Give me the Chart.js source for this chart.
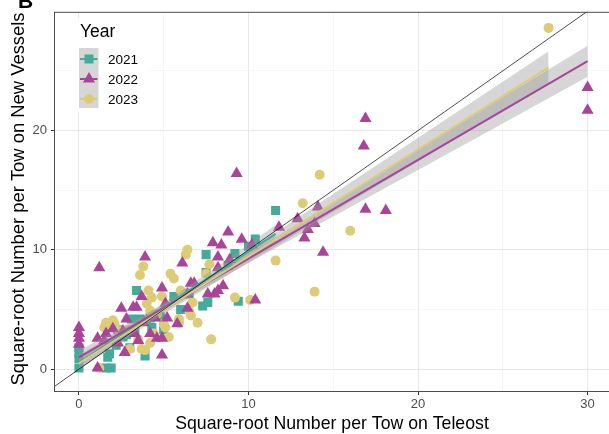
<!DOCTYPE html>
<html>
<head>
<meta charset="utf-8">
<script src="https://cdn.jsdelivr.net/npm/chart.js@4/dist/chart.umd.min.js"></script>
<style>
  html, body { margin: 0; padding: 0; overflow: hidden; background: #fff; }
  #wrap { width: 620px; height: 434px; }
</style>
</head>
<body>
<div id="wrap"><canvas id="c" width="620" height="434"></canvas></div>
<script>
// Square-root catch per tow: Teleost (x) vs new vessels (y), by survey year
const years = ['2021', '2022', '2023'];
const colours = ['#44AA99', '#AA4499', '#DDCC77'];
const shapes = ['rect', 'triangle', 'circle'];

const tows2021 = [
  [0,0.1],[0,0.9],[0,1.4],[0,1.8],
  [1.6,0.1],[1.9,0.1],[1.7,1.0],[1.8,1.3],
  [2.2,2.0],[2.3,3.3],[2.6,2.7],[2.8,2.9],[3.0,1.8],[3.1,4.2],[3.3,3.3],[3.4,6.6],
  [3.6,4.2],[3.9,1.1],[4.0,4.1],[4.2,4.3],[4.3,3.5],[4.8,4.4],[5.0,3.3],
  [5.6,6.1],[6.0,5.0],[6.5,6.3],[7.3,5.3],[7.6,5.6],[7.5,8.1],[7.5,9.6],
  [8.8,8.7],[9.2,9.7],[9.4,5.7],[10.0,10.3],[10.4,10.9],[11.6,13.3]
];
const tows2022 = [
  [0,3.5],[0,3.0],[0,2.6],[0,2.1],
  [1.1,0.1],[1.2,8.5],[1.1,2.6],[1.5,2.4],[1.6,3.0],
  [2.0,3.4],[2.3,2.2],[2.6,3.2],[2.7,1.4],[2.5,5.1],[2.8,4.2],[3.2,5.2],[3.4,5.2],
  [3.3,3.0],[3.7,6.1],[3.9,9.4],[3.5,2.4],[3.8,3.9],
  [4.5,4.3],[4.9,6.8],[4.9,1.2],[4.9,2.6],[5.1,5.5],[5.2,4.3],[4.2,3.0],[4.6,2.6],
  [6.1,8.9],[6.4,6.3],[6.6,7.2],[6.4,5.1],[6.8,7.2],[5.8,3.8],
  [7.6,6.3],[7.9,10.6],[8.0,6.3],[8.2,6.6],[8.2,9.4],[8.5,7.0],[8.4,10.4],[8.8,11.5],
  [8.9,9.2],[8.2,8.5],
  [9.3,16.4],[9.6,10.9],[10.2,10.4],[10.4,5.8],
  [11.8,11.9],[12.9,12.6],[13.3,11.0],[13.5,11.7],[13.9,12.2],[14.1,13.6],[14.4,9.8],
  [16.9,21.0],[16.8,18.7],[16.9,13.4],[18.1,13.3],
  [30,23.6],[30,21.7]
];
const tows2023 = [
  [1.2,0.1],[1.5,3.5],[1.6,3.9],[1.8,3.6],[2.1,3.8],[2.0,4.1],[2.4,3.2],[2.9,3.3],
  [3.0,1.7],[3.5,2.5],[3.7,1.7],[3.9,1.6],[4.2,2.2],[4.4,3.0],[3.6,7.9],[3.8,8.6],
  [4.1,6.6],[4.0,5.5],[4.3,6.0],[4.2,4.9],[4.6,4.6],
  [4.9,6.1],[5.0,3.8],[5.1,3.5],[5.3,2.7],[5.4,8.0],[5.6,7.6],[5.9,3.9],[5.9,4.2],
  [6.0,6.6],[6.3,9.6],[6.4,10.0],[6.5,4.9],[6.6,4.5],[6.7,5.6],[7.0,3.9],
  [7.5,8.0],[7.7,8.8],[7.8,2.5],
  [9.2,6.0],[10.1,5.8],[11.6,9.1],[13.2,13.9],[13.9,6.5],[14.2,16.3],[16.0,11.6],
  [27.7,28.6]
];

// Fitted linear trends (end points) and their 95% confidence bands
const fitX2021 = [0, 11.6],  fitY2021 = [0.55, 11.34];
const fitX2022 = [0, 30],    fitY2022 = [1.0, 25.81];
const fitX2023 = [0, 27.7],  fitY2023 = [0.5, 25.29];

const bandX2021 = [0, 4, 8, 11.6];
const bandLo2021 = [-0.05, 3.92, 7.54, 10.59];
const bandHi2021 = [1.15, 4.62, 8.44, 12.09];

const bandX2022 = [0, 5, 10, 15, 20, 25, 30];
const bandLo2022 = [0.45, 4.84, 8.89, 12.8, 16.69, 20.58, 24.51];
const bandHi2022 = [1.55, 5.44, 9.65, 14.0, 18.39, 22.78, 27.11];

const bandX2023 = [0, 5, 10, 15, 20, 25, 27.7];
const bandLo2023 = [0.0, 4.63, 8.95, 13.18, 17.4, 21.68, 23.94];
const bandHi2023 = [1.0, 5.33, 9.95, 14.68, 19.4, 24.08, 26.64];

// 1:1 reference line
const identityX = [-2, 32];

const xTicks = [0, 10, 20, 30];
const yTicks = [0, 10, 20];

const FONT = '"Liberation Sans", Arial, Helvetica, sans-serif';
const pts = arr => arr.map(([x, y]) => ({ x, y }));
const xy = (xs, ys) => xs.map((x, i) => ({ x, y: ys[i] }));

const pointSets = [tows2021, tows2022, tows2023];
const radii = [6.4, 7.0, 5.0];
const pointOrder = [30, 28, 29];

const datasets = [];
pointSets.forEach((set, i) => {
  datasets.push({
    type: 'scatter', label: years[i], data: pts(set),
    pointStyle: shapes[i], pointRadius: radii[i], pointHoverRadius: radii[i],
    backgroundColor: colours[i], borderWidth: 0, order: pointOrder[i]
  });
});
const bands = [[bandX2021, bandLo2021, bandHi2021], [bandX2022, bandLo2022, bandHi2022], [bandX2023, bandLo2023, bandHi2023]];
bands.forEach(([bx, lo, hi], i) => {
  datasets.push({
    type: 'line', data: xy(bx, lo), showLine: true, borderWidth: 0,
    borderColor: 'rgba(0,0,0,0)', pointRadius: 0, fill: false, order: 20 - i * 2
  });
  datasets.push({
    type: 'line', data: xy(bx, hi), showLine: true, borderWidth: 0,
    borderColor: 'rgba(0,0,0,0)', pointRadius: 0,
    fill: '-1', backgroundColor: 'rgba(153,153,153,0.4)', order: 19 - i * 2
  });
});
const fits = [[fitX2021, fitY2021], [fitX2022, fitY2022], [fitX2023, fitY2023]];
fits.forEach(([fx, fy], i) => {
  datasets.push({
    type: 'line', data: xy(fx, fy), showLine: true, borderColor: colours[i],
    borderWidth: 2, pointRadius: 0, fill: false, order: 10 - i
  });
});
datasets.push({
  type: 'line', data: xy(identityX, identityX), showLine: true, borderColor: '#000',
  borderWidth: 0.7, pointRadius: 0, fill: false, order: 1
});

const isMajor = (v, list) => list.includes(v);

const decorations = {
  id: 'decorations',
  afterDraw(chart) {
    const { ctx, chartArea: a } = chart;
    ctx.save();
    // panel border
    ctx.strokeStyle = '#4d4d4d';
    ctx.lineWidth = 1;
    ctx.strokeRect(a.left + 0.5, a.top + 0.5, a.right - a.left - 1, a.bottom - a.top - 1);

    // axis titles
    ctx.fillStyle = '#000';
    ctx.textAlign = 'center';
    ctx.textBaseline = 'alphabetic';
    ctx.font = `17.7px ${FONT}`;
    ctx.fillText('Square-root Number per Tow on Teleost', 332, 429);
    ctx.save();
    ctx.translate(24, 199);
    ctx.rotate(-Math.PI / 2);
    ctx.font = `18.4px ${FONT}`;
    ctx.fillText('Square-root Number per Tow on New Vessels', 0, 0);
    ctx.restore();

    // panel tag
    ctx.textAlign = 'left';
    ctx.font = `bold 21px ${FONT}`;
    ctx.fillText('B', 18, 8);

    // legend
    ctx.fillStyle = '#fff';
    ctx.fillRect(72, 18, 78, 94);
    ctx.fillStyle = '#000';
    ctx.font = `17.5px ${FONT}`;
    ctx.fillText('Year', 80, 37);
    ctx.fillStyle = '#d6d6d6';
    ctx.fillRect(79, 48, 19.5, 60);
    years.forEach((yr, i) => {
      const cy = 59 + i * 20, cx = 89;
      ctx.strokeStyle = colours[i];
      ctx.lineWidth = 2;
      ctx.beginPath(); ctx.moveTo(80, cy); ctx.lineTo(97.5, cy); ctx.stroke();
      ctx.fillStyle = colours[i];
      ctx.beginPath();
      if (shapes[i] === 'rect') {
        ctx.rect(cx - 4.5, cy - 4.5, 9, 9);
      } else if (shapes[i] === 'triangle') {
        const r = 7;
        ctx.moveTo(cx, cy - r);
        ctx.lineTo(cx + r * 0.866, cy + r * 0.5);
        ctx.lineTo(cx - r * 0.866, cy + r * 0.5);
        ctx.closePath();
      } else {
        ctx.arc(cx, cy, 5, 0, Math.PI * 2);
      }
      ctx.fill();
      ctx.fillStyle = '#000';
      ctx.font = `13.5px ${FONT}`;
      ctx.fillText(yr, 108, cy + 5);
    });
    ctx.restore();
  }
};

new Chart(document.getElementById('c'), {
  data: { datasets },
  options: {
    responsive: false,
    devicePixelRatio: 1,
    animation: false,
    events: [],
    layout: { padding: { top: 7, right: 5.5, left: 0, bottom: 0 } },
    plugins: { legend: { display: false }, tooltip: { enabled: false } },
    scales: {
      x: {
        type: 'linear', min: -1.47, max: 31.5,
        border: { display: false },
        afterFit: s => { s.height = 42; },
        grid: {
          color: c => isMajor(c.tick && c.tick.value, xTicks) ? '#e8e8e8' : '#f3f3f3',
          lineWidth: c => isMajor(c.tick && c.tick.value, xTicks) ? 1 : 0.7,
          tickColor: c => isMajor(c.tick && c.tick.value, xTicks) ? '#333' : 'rgba(0,0,0,0)',
          tickLength: 3
        },
        ticks: {
          stepSize: 5, includeBounds: false, padding: 2, maxRotation: 0,
          color: '#4d4d4d', font: { family: FONT, size: 13 },
          callback: v => isMajor(v, xTicks) ? String(v) : ''
        }
      },
      y: {
        type: 'linear', min: -1.91, max: 29.95,
        border: { display: false },
        afterFit: s => { s.width = 54; },
        grid: {
          color: c => isMajor(c.tick && c.tick.value, [0, 10, 20, 30]) ? '#e8e8e8' : '#f3f3f3',
          lineWidth: c => isMajor(c.tick && c.tick.value, [0, 10, 20, 30]) ? 1 : 0.7,
          tickColor: c => isMajor(c.tick && c.tick.value, yTicks) ? '#333' : 'rgba(0,0,0,0)',
          tickLength: 3
        },
        ticks: {
          stepSize: 5, includeBounds: false, padding: 4,
          color: '#4d4d4d', font: { family: FONT, size: 13 },
          callback: v => isMajor(v, yTicks) ? String(v) : ''
        }
      }
    }
  },
  plugins: [decorations]
});
</script>
</body>
</html>
